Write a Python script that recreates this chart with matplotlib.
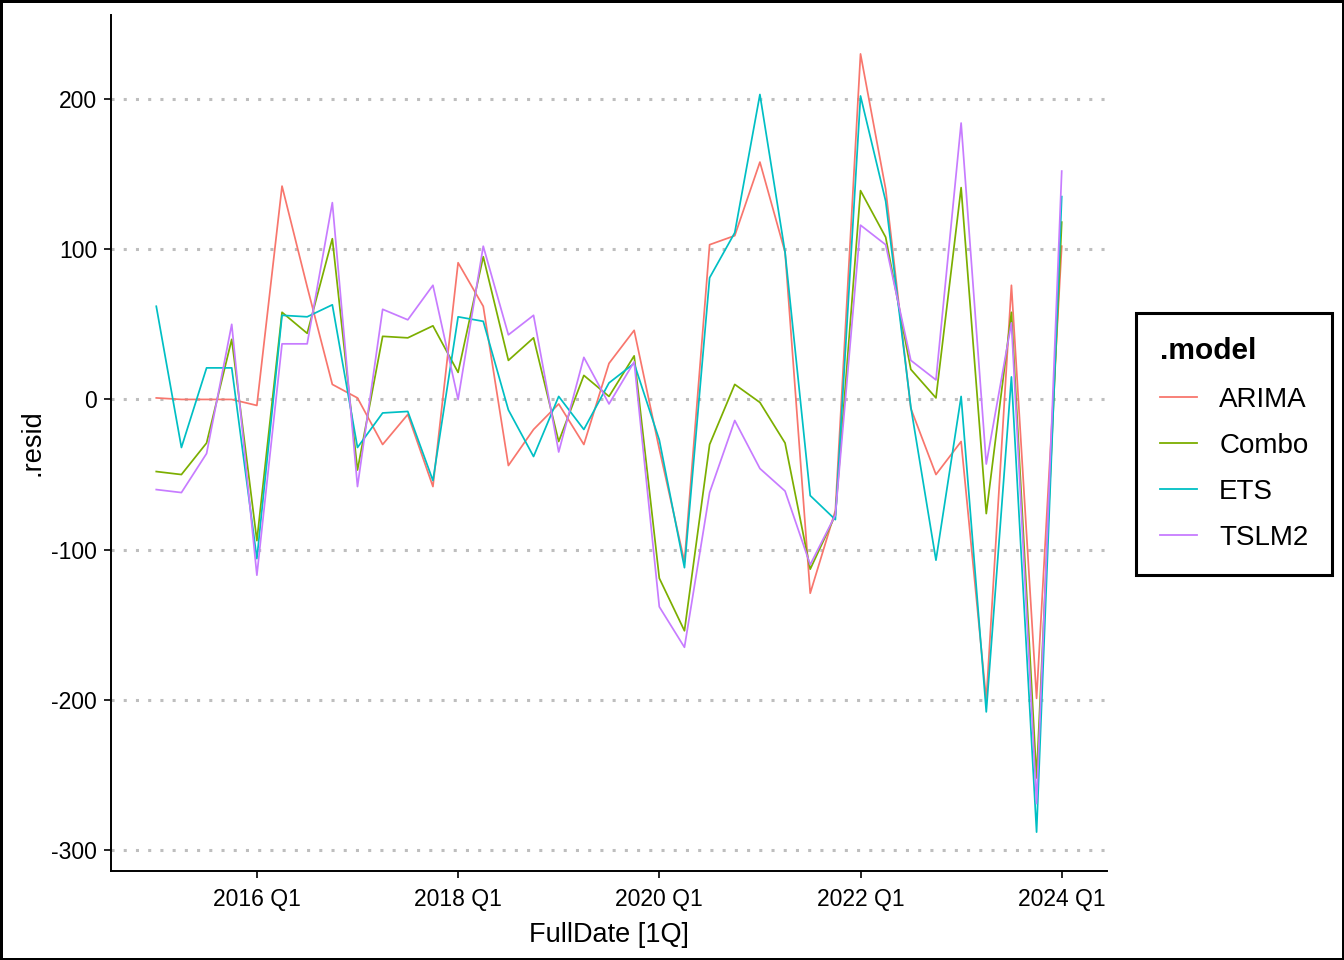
import numpy as np
import pandas as pd
import matplotlib
matplotlib.use("Agg")
from matplotlib import pyplot as plt

plt.rcParams['font.family'] = ['Liberation Sans', 'DejaVu Sans']
plt.rcParams['axes.unicode_minus'] = False

# Quarterly residuals, 2015 Q1 .. 2024 Q1
quarters = pd.period_range('2015Q1', '2024Q1', freq='Q')

models = ['ARIMA', 'Combo', 'ETS', 'TSLM2']
colors = ['#F8766D', '#7CAE00', '#00BFC4', '#C77CFF']

arima = [1, 0, 0, 0, -4, 142, 75, 10, 1, -30, -10, -58, 91, 62, -44, -20, -3, -30, 24, 46,
         -33, -108, 103, 109, 158, 98, -129, -74, 230, 140, -6, -50, -28, -200, 76, -199, 102]
combo = [-48, -50, -29, 40, -94, 58, 44, 107, -47, 42, 41, 49, 18, 95, 26, 41, -28, 16, 2, 29,
         -119, -154, -30, 10, -2, -29, -113, -77, 139, 108, 20, 1, 141, -76, 58, -252, 118]
ets = [62, -32, 21, 21, -106, 56, 55, 63, -32, -9, -8, -54, 55, 52, -7, -38, 2, -20, 11, 24,
       -27, -112, 81, 111, 203, 98, -64, -80, 202, 132, -5, -107, 2, -208, 15, -288, 135]
tslm2 = [-60, -62, -36, 50, -117, 37, 37, 131, -58, 60, 53, 76, 0, 102, 43, 56, -35, 28, -3, 25,
         -138, -165, -62, -14, -46, -61, -110, -77, 116, 103, 26, 13, 184, -43, 51, -269, 152]

series = [arima, combo, ets, tslm2]

# numeric x: year + quarter fraction
x = np.array([q.year + (q.quarter - 1) / 4 for q in quarters])
xticks = [2016, 2018, 2020, 2022, 2024]
xticklabels = ['2016 Q1', '2018 Q1', '2020 Q1', '2022 Q1', '2024 Q1']
yticks = [-300, -200, -100, 0, 100, 200]

fig = plt.figure(figsize=(13.44, 9.6), dpi=100)
fig.patch.set_edgecolor('black')
fig.patch.set_linewidth(2.5)
ax = fig.add_axes([111 / 1344, 89 / 960, (1107 - 111) / 1344, (872 - 16) / 960])

for name, vals, c in zip(models, series, colors):
    ax.plot(x, vals, color=c, lw=1.25, label=name, zorder=3)

# ggplot-like 5% expansion
allv = np.concatenate([np.array(s) for s in series])
ymin, ymax = allv.min(), allv.max()
pad = 0.05 * (ymax - ymin)
ax.set_ylim(ymin - pad, ymax + pad)
xpad = 0.05 * (x.max() - x.min())
ax.set_xlim(x.min() - xpad, x.max() + xpad)

for yv in yticks:
    ax.axhline(yv, color='#BEBEBE', lw=2.2, linestyle=(0, (1.0, 3.0)), zorder=1)

ax.set_xticks(xticks)
ax.set_xticklabels(xticklabels)
ax.set_yticks(yticks)
ax.tick_params(axis='both', labelsize=16.5, length=5, width=1.2, color='black', labelcolor='black')
ax.tick_params(axis='x', pad=7)
ax.tick_params(axis='y', pad=5)

for s in ['top', 'right']:
    ax.spines[s].set_visible(False)
for s in ['left', 'bottom']:
    ax.spines[s].set_linewidth(1.4)

ax.set_xlabel('FullDate [1Q]', fontsize=19.5, labelpad=8)
ax.set_ylabel('.resid', fontsize=19.5, labelpad=4)

leg = fig.legend(loc='center', bbox_to_anchor=(1234 / 1344, 1 - 444 / 960), title='.model',
                 fontsize=20, title_fontproperties={'size': 21.5, 'weight': 'bold'},
                 handlelength=1.35, handletextpad=0.8, labelspacing=0.72,
                 frameon=True, fancybox=False, borderpad=0.85, framealpha=1)
leg.get_frame().set_edgecolor('black')
leg.get_frame().set_linewidth(2.2)
leg._legend_box.align = 'left'
leg._legend_box.sep = 16
for h in leg.get_lines():
    h.set_linewidth(1.3)

fig.savefig('out.png', dpi=100)
